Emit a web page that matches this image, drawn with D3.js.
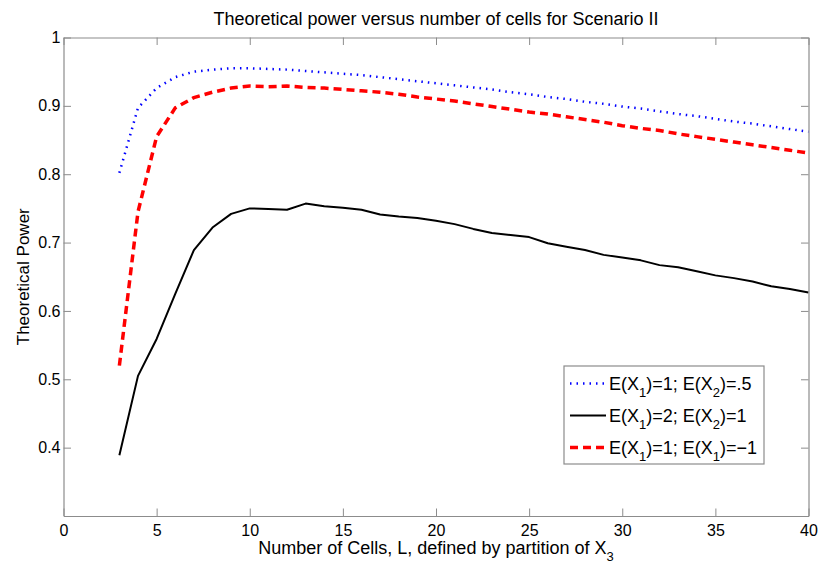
<!DOCTYPE html>
<html>
<head>
<meta charset="utf-8">
<script src="https://cdn.jsdelivr.net/npm/d3@7"></script>
<style>
  html, body { margin: 0; padding: 0; background: #fff; }
  svg text { font-family: "Liberation Sans", Arial, Helvetica, sans-serif; fill: #000; }
</style>
</head>
<body>
<svg id="chart" width="822" height="570"></svg>
<script>
// number of cells L
const cells = d3.range(3, 41);

// E(X1)=1; E(X2)=.5
const powerA = [0.802, 0.897, 0.926, 0.942, 0.950, 0.953, 0.955, 0.955, 0.954, 0.953,
  0.951, 0.949, 0.947, 0.945, 0.942, 0.939, 0.936, 0.933, 0.930, 0.927,
  0.924, 0.920, 0.917, 0.913, 0.910, 0.906, 0.903, 0.899, 0.896, 0.892,
  0.888, 0.885, 0.881, 0.877, 0.874, 0.870, 0.866, 0.862];

// E(X1)=2; E(X2)=1
const powerB = [0.389, 0.505, 0.559, 0.625, 0.689, 0.722, 0.742, 0.750, 0.749, 0.748,
  0.757, 0.753, 0.751, 0.748, 0.741, 0.738, 0.736, 0.732, 0.727, 0.720,
  0.714, 0.711, 0.708, 0.699, 0.694, 0.689, 0.682, 0.678, 0.674, 0.667,
  0.664, 0.658, 0.652, 0.648, 0.643, 0.636, 0.632, 0.627];

// E(X1)=1; E(X1)=-1
const powerC = [0.520, 0.745, 0.855, 0.897, 0.912, 0.920, 0.926, 0.929, 0.928, 0.929,
  0.927, 0.926, 0.924, 0.922, 0.920, 0.917, 0.913, 0.910, 0.907, 0.903,
  0.899, 0.895, 0.891, 0.888, 0.884, 0.880, 0.876, 0.871, 0.867, 0.864,
  0.859, 0.855, 0.851, 0.847, 0.843, 0.839, 0.835, 0.831];

const xTicks = [0, 5, 10, 15, 20, 25, 30, 35, 40];
const yTicks = [0.4, 0.5, 0.6, 0.7, 0.8, 0.9, 1];

const series = [
  { name: "a", values: powerA, color: "#0000ff", width: 2.5, dash: "1.5 5",
    label: [["E(X", ""], ["1", "sub"], [")=1; E(X", ""], ["2", "sub"], [")=.5", ""]] },
  { name: "b", values: powerB, color: "#000000", width: 2, dash: null,
    label: [["E(X", ""], ["1", "sub"], [")=2; E(X", ""], ["2", "sub"], [")=1", ""]] },
  { name: "c", values: powerC, color: "#ff0000", width: 3.5, dash: "8 5",
    label: [["E(X", ""], ["1", "sub"], [")=1; E(X", ""], ["1", "sub"], [")=\u22121", ""]] }
];

const width = 822, height = 570;
const margin = { top: 37.5, right: 13.5, bottom: 54, left: 63.5 };
const innerW = width - margin.left - margin.right;
const innerH = height - margin.top - margin.bottom;

const svg = d3.select("#chart");
const axisColor = "#8c8c8c";

const x = d3.scaleLinear().domain([0, 40]).range([0, innerW]);
const y = d3.scaleLinear().domain([0.3, 1]).range([innerH, 0]);

const g = svg.append("g").attr("transform", `translate(${margin.left},${margin.top})`);

g.append("rect")
  .attr("width", innerW)
  .attr("height", innerH)
  .attr("fill", "#fff");

// lines
const line = d3.line()
  .x(d => x(d[0]))
  .y(d => y(d[1]));

series.forEach(s => {
  g.append("path")
    .datum(cells.map((c, i) => [c, s.values[i]]))
    .attr("fill", "none")
    .attr("stroke", s.color)
    .attr("stroke-width", s.width)
    .attr("stroke-dasharray", s.dash)
    .attr("stroke-linejoin", "round")
    .attr("d", line);
});

// axes, ticks inside on all four sides
const tickLen = 7.5;

const xBottom = g.append("g")
  .attr("transform", `translate(0,${innerH})`)
  .call(d3.axisBottom(x).tickValues(xTicks).tickSizeInner(-tickLen).tickSizeOuter(0).tickPadding(9));
const xTop = g.append("g")
  .call(d3.axisTop(x).tickValues(xTicks).tickSizeInner(-tickLen).tickSizeOuter(0).tickFormat(""));
const yLeft = g.append("g")
  .call(d3.axisLeft(y).tickValues(yTicks).tickSizeInner(-tickLen).tickSizeOuter(0)
    .tickPadding(3).tickFormat(d => d === 1 ? "1" : d3.format(".1f")(d)));
const yRight = g.append("g")
  .attr("transform", `translate(${innerW},0)`)
  .call(d3.axisRight(y).tickValues(yTicks).tickSizeInner(-tickLen).tickSizeOuter(0).tickFormat(""));

[xBottom, xTop, yLeft, yRight].forEach(a => {
  a.select(".domain").attr("stroke", axisColor).attr("stroke-width", 1.2);
  a.selectAll(".tick line").attr("stroke", axisColor).attr("stroke-width", 1);
  a.selectAll(".tick text").attr("font-size", 16).attr("fill", "#000")
    .attr("font-family", "'Liberation Sans', Arial, sans-serif");
});
xBottom.selectAll(".tick text").attr("dy", "0.71em");

// title
svg.append("text")
  .attr("x", margin.left + innerW / 2)
  .attr("y", 25)
  .attr("text-anchor", "middle")
  .attr("font-size", 18)
  .text("Theoretical power versus number of cells for Scenario II");

// x label
const xl = svg.append("text")
  .attr("x", margin.left + innerW / 2)
  .attr("y", 554)
  .attr("text-anchor", "middle")
  .attr("font-size", 18);
xl.append("tspan").text("Number of Cells, L, defined by partition of X");
xl.append("tspan").attr("font-size", 13).attr("dy", 7).text("3");

// y label
svg.append("text")
  .attr("transform", `translate(29,${margin.top + innerH / 2}) rotate(-90)`)
  .attr("text-anchor", "middle")
  .attr("font-size", 17)
  .text("Theoretical Power");

// legend
const legend = svg.append("g").attr("transform", "translate(564,366)");

legend.append("rect")
  .attr("width", 200)
  .attr("height", 98)
  .attr("fill", "#fff")
  .attr("stroke", axisColor)
  .attr("stroke-width", 1.2);

series.forEach((s, i) => {
  const row = legend.append("g").attr("transform", `translate(0,${17.5 + i * 32})`);
  row.append("line")
    .attr("x1", 6).attr("x2", 42)
    .attr("y1", 0).attr("y2", 0)
    .attr("stroke", s.color)
    .attr("stroke-width", s.width)
    .attr("stroke-dasharray", s.dash);
  const t = row.append("text")
    .attr("x", 45)
    .attr("y", 6)
    .attr("font-size", 18);
  s.label.forEach(([txt, kind], j) => {
    if (kind === "sub") {
      t.append("tspan").attr("font-size", 13).attr("dy", 7).text(txt);
    } else {
      const sp = t.append("tspan").text(txt);
      if (j > 0) sp.attr("dy", -7);
    }
  });
});
</script>
</body>
</html>
